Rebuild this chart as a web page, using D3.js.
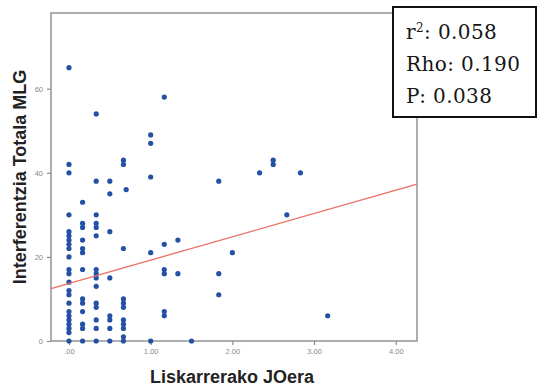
<!DOCTYPE html>
<html>
<head>
<meta charset="utf-8">
<script src="https://cdn.jsdelivr.net/npm/d3@7"></script>
<style>
  body { margin: 0; background: #fff; }
  svg { display: block; }
</style>
</head>
<body>
<svg id="chart" width="538" height="386"></svg>
<script>
// Liskarrerako JOera levels (x) and the MLG values found at each level (y)
const jOeraLevels = [0, 1/6, 2/6, 3/6, 4/6, 0.7, 1, 7/6, 8/6, 1.5, 11/6, 2, 14/6, 2.5, 16/6, 17/6, 19/6];
const mlgByLevel = [
  [65, 42, 40, 30, 26, 25, 24, 23, 22, 20, 17, 16, 14, 12, 11, 9, 7, 6, 5, 4, 3, 2, 0],
  [33, 28, 27, 24, 22, 21, 17, 10, 9, 7, 4, 3, 0],
  [54, 38, 30, 28, 27, 25, 17, 16, 15, 13, 9, 8, 5, 3, 0],
  [38, 35, 26, 15, 6, 5, 3, 0],
  [43, 42, 22, 10, 9, 8, 5, 4, 3, 1, 0],
  [36],
  [49, 47, 39, 21, 0],
  [58, 23, 17, 16, 7, 6],
  [24, 16],
  [0],
  [38, 16, 11],
  [21],
  [40],
  [43, 42],
  [30],
  [40],
  [6]
];
const xTickValues = [0, 1, 2, 3, 4];
const xTickLabels = [".00", "1.00", "2.00", "3.00", "4.00"];
const yTickValues = [0, 20, 40, 60];
const fitIntercept = 13.7;
const fitSlope = 5.54;
const statLines = [["r", "2", ": 0.058"], ["Rho: 0.190"], ["P: 0.038"]];

const svg = d3.select("#chart");
const plotL = 51, plotR = 417, plotT = 13, plotB = 341;

const x = d3.scaleLinear().domain([-0.22, 4.26]).range([plotL, plotR]);
const y = d3.scaleLinear().domain([0, 78]).range([plotB, plotT]);

let points = [];
jOeraLevels.forEach(function(lv, i) {
  mlgByLevel[i].forEach(function(v) { points.push({x: lv, y: v}); });
});

// frame
svg.append("rect")
  .attr("x", plotL).attr("y", plotT)
  .attr("width", plotR - plotL).attr("height", plotB - plotT)
  .attr("fill", "none").attr("stroke", "#8c8c8c").attr("stroke-width", 1.4);

// axes
const yAxis = svg.append("g")
  .attr("transform", "translate(" + plotL + ",0)")
  .call(d3.axisLeft(y).tickValues(yTickValues).tickSize(4).tickPadding(4));
const xAxis = svg.append("g")
  .attr("transform", "translate(0," + plotB + ")")
  .call(d3.axisBottom(x).tickValues(xTickValues).tickSize(4).tickPadding(4)
    .tickFormat(function(d, i) { return xTickLabels[i]; }));
[yAxis, xAxis].forEach(function(g) {
  g.select(".domain").remove();
  g.selectAll("line").attr("stroke", "#8c8c8c").attr("stroke-width", 1.2);
  g.selectAll("text").attr("fill", "#888").style("font-family", "Liberation Sans, Arial, sans-serif").style("font-size", "7.5px");
});

// points
svg.append("g").selectAll("circle")
  .data(points)
  .enter().append("circle")
  .attr("cx", function(d) { return x(d.x); })
  .attr("cy", function(d) { return y(d.y); })
  .attr("r", 2.6)
  .attr("fill", "#2451a6");

// fit line
const xd = x.domain();
svg.append("line")
  .attr("x1", x(xd[0])).attr("y1", y(fitIntercept + fitSlope * xd[0]))
  .attr("x2", x(xd[1])).attr("y2", y(fitIntercept + fitSlope * xd[1]))
  .attr("stroke", "#ec6f63").attr("stroke-width", 1.3);

// axis titles
svg.append("text")
  .attr("x", 232).attr("y", 383)
  .attr("text-anchor", "middle")
  .style("font-family", "Liberation Sans, Arial, sans-serif")
  .style("font-weight", "bold").style("font-size", "18px")
  .attr("fill", "#222")
  .text("Liskarrerako JOera");
svg.append("text")
  .attr("transform", "translate(26,177) rotate(-90)")
  .attr("text-anchor", "middle")
  .style("font-family", "Liberation Sans, Arial, sans-serif")
  .style("font-weight", "bold").style("font-size", "18px")
  .attr("fill", "#222")
  .text("Interferentzia Totala MLG");

// stats box
svg.append("rect")
  .attr("x", 393).attr("y", 7).attr("width", 143).attr("height", 110)
  .attr("fill", "#fff").attr("stroke", "#111").attr("stroke-width", 2);
const stat = svg.append("g")
  .style("font-family", "DejaVu Serif, serif")
  .style("font-size", "20px")
  .style("letter-spacing", "0.4px")
  .attr("fill", "#151515");
statLines.forEach(function(parts, i) {
  const t = stat.append("text").attr("x", 406).attr("y", 39 + i * 32);
  if (parts.length === 3) {
    t.append("tspan").text(parts[0]);
    t.append("tspan").attr("dy", -7).style("font-size", "12px").text(parts[1]);
    t.append("tspan").attr("dy", 7).text(parts[2]);
  } else {
    t.text(parts[0]);
  }
});
</script>
</body>
</html>
